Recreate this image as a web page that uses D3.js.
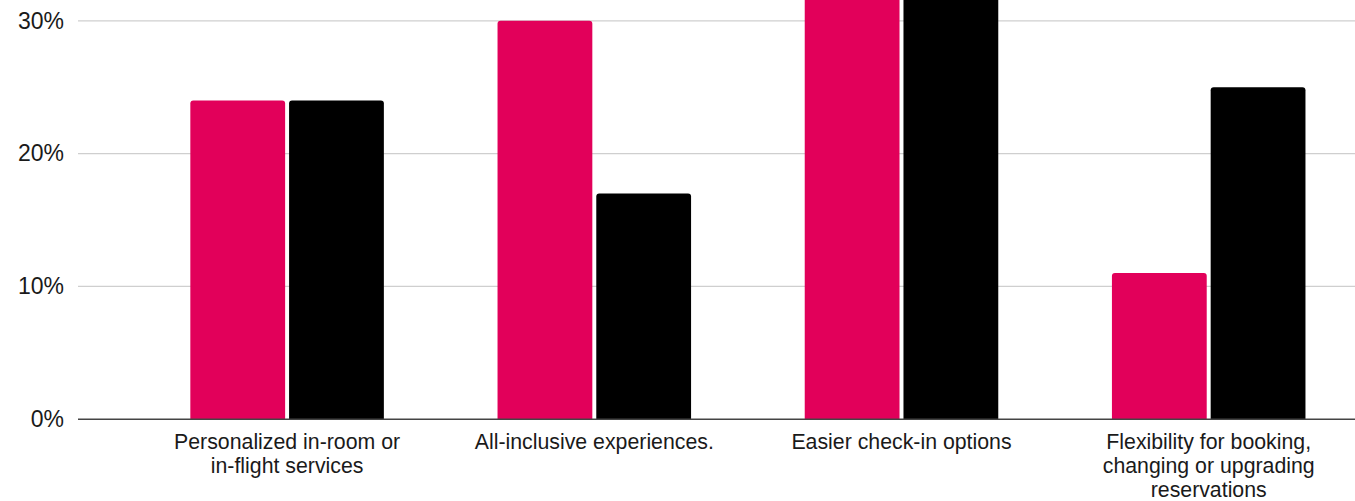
<!DOCTYPE html>
<html>
<head>
<meta charset="utf-8">
<script src="https://cdn.jsdelivr.net/npm/d3@7"></script>
<style>
  html, body { margin: 0; padding: 0; background: #fff; }
  svg { display: block; }
  text { font-family: "Liberation Sans", Arial, Helvetica, sans-serif; fill: #1a1a1a; }
</style>
</head>
<body>
<svg id="chart" width="1355" height="501"></svg>
<script>
// Categories, with their label lines as drawn under the axis
const categories = [
  "Personalized in-room or in-flight services",
  "All-inclusive experiences.",
  "Easier check-in options",
  "Flexibility for booking, changing or upgrading reservations"
];
const categoryLines = [
  ["Personalized in-room or", "in-flight services"],
  ["All-inclusive experiences."],
  ["Easier check-in options"],
  ["Flexibility for booking,", "changing or upgrading", "reservations"]
];
const seriesNames = ["Series A", "Series B"];
const seriesA = [24, 30, 35, 11];   // percent
const seriesB = [24, 17, 35, 25];   // percent
const yTicks = [0, 10, 20, 30];
const seriesColors = ["#e2005a", "#000000"];

const W = 1355, H = 501;
const svg = d3.select("#chart");

const y = d3.scaleLinear().domain([0, 30]).range([419.2, 20.8]);
const x = d3.scaleBand()
  .domain(categories)
  .range([133.5, 1362.3])
  .paddingInner(0.37)
  .paddingOuter(0.185);
const xs = d3.scaleBand()
  .domain(seriesNames)
  .range([0, x.bandwidth()])
  .paddingInner(0.04);
const color = d3.scaleOrdinal().domain(seriesNames).range(seriesColors);

const gridLeft = 78;

// Horizontal gridlines
svg.append("g")
  .selectAll("line")
  .data(yTicks.filter(t => t > 0))
  .join("line")
  .attr("x1", gridLeft).attr("x2", W)
  .attr("y1", d => y(d)).attr("y2", d => y(d))
  .attr("stroke", "#cfcfcf")
  .attr("stroke-width", 1.3);

// Y axis labels
const yAxis = d3.axisLeft(y).tickValues(yTicks).tickFormat(d => d + "%").tickSize(0).tickPadding(0);
const gy = svg.append("g").attr("transform", "translate(64,0)").call(yAxis);
gy.select(".domain").remove();
gy.selectAll("text")
  .attr("font-size", 23)
  .attr("fill", "#1a1a1a")
  .attr("font-family", "Liberation Sans, Arial, sans-serif");

// Bars with rounded top corners
function barPath(x0, w, yTop, yBase, r) {
  r = Math.min(r, w / 2, (yBase - yTop) / 2);
  return `M${x0},${yBase}V${yTop + r}Q${x0},${yTop} ${x0 + r},${yTop}` +
         `H${x0 + w - r}Q${x0 + w},${yTop} ${x0 + w},${yTop + r}V${yBase}Z`;
}

const rows = categories.map((c, i) => ({
  cat: c,
  vals: [
    { s: seriesNames[0], v: seriesA[i] },
    { s: seriesNames[1], v: seriesB[i] }
  ]
}));

svg.append("g")
  .selectAll("g")
  .data(rows)
  .join("g")
  .attr("transform", d => `translate(${x(d.cat)},0)`)
  .selectAll("path")
  .data(d => d.vals)
  .join("path")
  .attr("d", d => barPath(xs(d.s), xs.bandwidth(), y(d.v), y(0), 3))
  .attr("fill", d => color(d.s));

// Baseline
svg.append("line")
  .attr("x1", gridLeft).attr("x2", W)
  .attr("y1", y(0)).attr("y2", y(0))
  .attr("stroke", "#444")
  .attr("stroke-width", 1.6);

// X axis labels (multi-line, centered under each group)
const xAxis = d3.axisBottom(x).tickSize(0).tickPadding(0).tickFormat(() => "");
const gx = svg.append("g").attr("transform", `translate(0,${y(0)})`).call(xAxis);
gx.select(".domain").remove();
gx.selectAll(".tick text").each(function(d, i) {
  const t = d3.select(this)
    .attr("y", 0)
    .attr("dy", null)
    .attr("font-size", 21.3)
    .attr("fill", "#1a1a1a")
    .attr("font-family", "Liberation Sans, Arial, sans-serif")
    .attr("text-anchor", "middle");
  categoryLines[categories.indexOf(d)].forEach((line, k) => {
    t.append("tspan")
      .attr("x", 0)
      .attr("y", 29.5 + k * 24)
      .text(line);
  });
});
</script>
</body>
</html>
